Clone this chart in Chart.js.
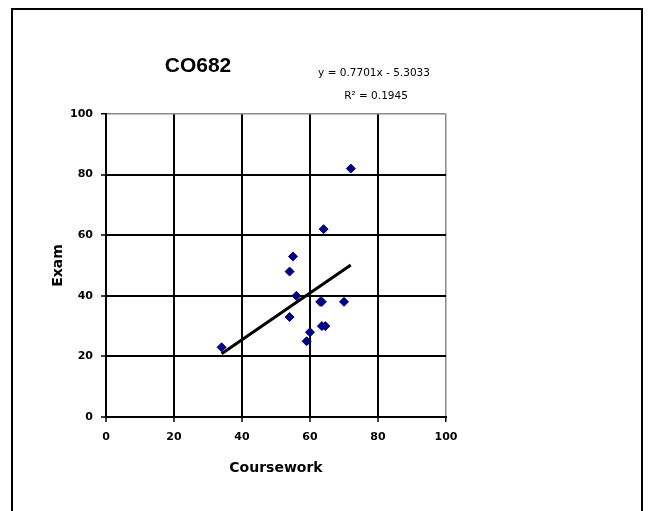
<!DOCTYPE html>
<html>
<head>
<meta charset="utf-8">
<script src="https://cdn.jsdelivr.net/npm/chart.js@4"></script>
<style>
  html, body { margin: 0; padding: 0; background: #fff; overflow: hidden; }
  #frame { position: absolute; left: 11px; top: 8px; width: 632px; height: 600px; border: 2px solid #000; box-sizing: border-box; }
  #c { position: absolute; left: 0; top: 0; }
</style>
</head>
<body>
<div id="frame"></div>
<canvas id="c" width="650" height="511"></canvas>
<script>
// ---- Data ----
const courseworkValues = [72, 64, 55, 54, 56, 63, 63.5, 70, 54, 63.5, 64.5, 60, 59, 34];
const examValues       = [82, 62, 53, 48, 40, 38, 38, 38, 33, 30, 30, 28, 25, 23];
const xTickValues = [0, 20, 40, 60, 80, 100];
const yTickValues = [0, 20, 40, 60, 80, 100];
const chartTitle = 'CO682';
const xAxisTitle = 'Coursework';
const yAxisTitle = 'Exam';
const trendSlope = 0.7701;
const trendIntercept = -5.3033;
const equationText = 'y = 0.7701x - 5.3033';
const rSquaredText = 'R\u00B2 = 0.1945';

const points = courseworkValues.map((x, i) => ({ x: x, y: examValues[i] }));
const xMinData = Math.min(...courseworkValues);
const xMaxData = Math.max(...courseworkValues);
const trendPoints = [
  { x: xMinData, y: trendSlope * xMinData + trendIntercept },
  { x: xMaxData, y: trendSlope * xMaxData + trendIntercept }
];

const textPlugin = {
  id: 'textPlugin',
  afterDraw(chart) {
    const ctx = chart.ctx;
    const a = chart.chartArea;
    ctx.save();
    ctx.fillStyle = '#000';
    ctx.textAlign = 'center';
    ctx.textBaseline = 'middle';
    ctx.font = 'bold 21px "Liberation Sans", Arial, sans-serif';
    ctx.fillText(chartTitle, a.left + 92, a.top - 48);
    ctx.font = '10.5px "DejaVu Sans", sans-serif';
    ctx.fillText(equationText, a.left + 268, a.top - 41);
    ctx.fillText(rSquaredText, a.left + 270, a.top - 18);
    ctx.restore();
  }
};

const gridColor = (c) => (c.tick && c.tick.value === 100) ? '#8a8a8a' : '#000';
const gridWidth = (c) => (c.tick && c.tick.value === 100) ? 1.5 : 2;

new Chart(document.getElementById('c'), {
  type: 'scatter',
  data: {
    datasets: [
      {
        type: 'line',
        label: 'Trend',
        data: trendPoints,
        borderColor: '#000',
        borderWidth: 3,
        pointRadius: 0,
        fill: false,
        order: 0
      },
      {
        label: 'Exam',
        data: points,
        pointStyle: 'rectRot',
        pointRadius: 4.5,
        backgroundColor: '#000080',
        borderColor: '#000080',
        borderWidth: 1,
        order: 1
      }
    ]
  },
  options: {
    responsive: false,
    animation: false,
    layout: { padding: { left: 50, right: 204, top: 114, bottom: 34 } },
    plugins: { legend: { display: false }, tooltip: { enabled: false }, title: { display: false } },
    scales: {
      x: {
        type: 'linear',
        min: 0, max: 100,
        afterFit: (s) => { s.height = 60; },
        afterBuildTicks: (s) => { s.ticks = xTickValues.map(v => ({ value: v })); },
        grid: { color: gridColor, lineWidth: gridWidth, tickLength: 5, tickColor: '#000', tickWidth: 1.5 },
        border: { color: '#000', width: 2 },
        ticks: { padding: 9, color: '#000', font: { family: '"DejaVu Sans", sans-serif', weight: 'bold', size: 11 } },
        title: { display: true, text: xAxisTitle, color: '#000', padding: { top: 0, bottom: 0 },
                 font: { family: '"DejaVu Sans", sans-serif', weight: 'bold', size: 14 } }
      },
      y: {
        type: 'linear',
        min: 0, max: 100,
        afterFit: (s) => { s.width = 56; },
        afterBuildTicks: (s) => { s.ticks = yTickValues.map(v => ({ value: v })); },
        grid: { color: gridColor, lineWidth: gridWidth, tickLength: 5, tickColor: '#000', tickWidth: 1.5 },
        border: { color: '#000', width: 2 },
        ticks: { padding: 8, color: '#000', font: { family: '"DejaVu Sans", sans-serif', weight: 'bold', size: 11 } },
        title: { display: true, text: yAxisTitle, color: '#000', padding: { top: 0, bottom: 0 },
                 font: { family: '"DejaVu Sans", sans-serif', weight: 'bold', size: 14 } }
      }
    }
  },
  plugins: [textPlugin]
});
</script>
</body>
</html>
